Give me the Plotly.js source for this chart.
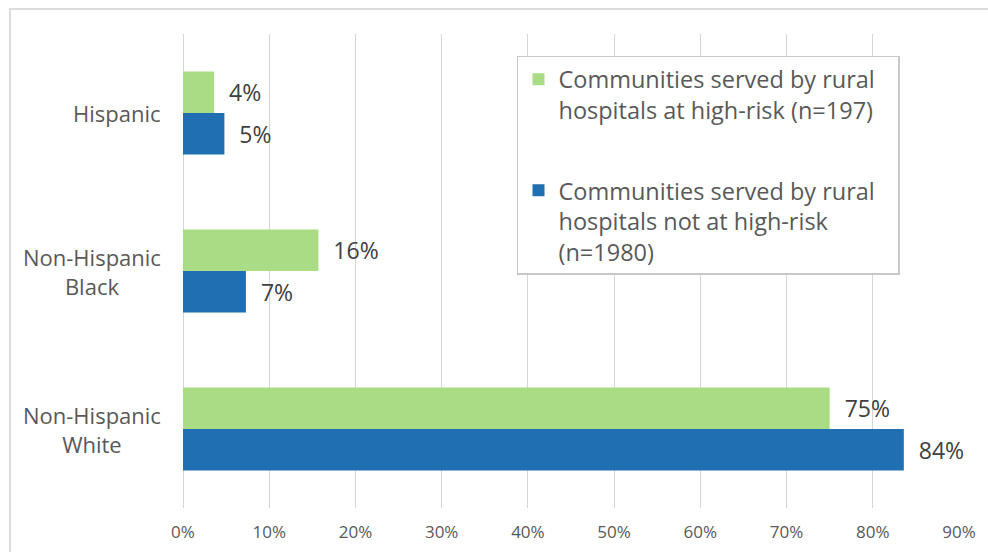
<!DOCTYPE html>
<html>
<head>
<meta charset="utf-8">
<script src="https://cdn.plot.ly/plotly-3.0.1.min.js"></script>
<style>
html,body{margin:0;padding:0;background:#fff;}
#wrap{position:relative;width:988px;height:552px;overflow:hidden;}
#frame{position:absolute;left:9px;top:8px;width:1010px;height:600px;border:2px solid #dcdcdc;pointer-events:none;}
#chart{position:absolute;left:0;top:0;width:988px;height:552px;}
</style>
</head>
<body>
<div id="wrap"><div id="chart"></div><div id="frame"></div></div>
<script>
const categories = ['Hispanic', 'Non-Hispanic Black', 'Non-Hispanic White'];
const categoryLabels = ['Hispanic', 'Non-Hispanic<br>Black', 'Non-Hispanic<br>White'];
const highRisk = [3.6, 15.7, 75.0];
const highRiskLabels = ['4%', '16%', '75%'];
const notHighRisk = [4.8, 7.3, 83.6];
const notHighRiskLabels = ['5%', '7%', '84%'];
const seriesNames = [
  'Communities served by rural\u00a0\u00a0\u00a0<br>hospitals at high-risk (n=197)',
  'Communities served by rural<br>hospitals not at high-risk<br>(n=1980)'
];
const xTicks = [0,10,20,30,40,50,60,70,80,90];
const xTickLabels = ['0%','10%','20%','30%','40%','50%','60%','70%','80%','90%'];

const FONT = 'Open Sans, Noto Sans, sans-serif';
const pad = '\u00a0\u00a0';

const traces = [
  {type:'bar', orientation:'h', name: seriesNames[0], y: categories, x: highRisk,
   text: highRiskLabels.map(t => pad + t), textposition:'outside', cliponaxis:false,
   constraintext:'none', textfont:{family:FONT, size:23, color:'#404040'},
   marker:{color:'#a9dc84'}, legendgroup:'a', hoverinfo:'x+y'},
  {type:'bar', orientation:'h', name: seriesNames[1], y: categories, x: notHighRisk,
   text: notHighRiskLabels.map(t => pad + t), textposition:'outside', cliponaxis:false,
   constraintext:'none', textfont:{family:FONT, size:23, color:'#404040'},
   marker:{color:'#1f6fb2'}, legendgroup:'b', hoverinfo:'x+y'}
];

const annotations = categories.map((c, i) => ({
  xref:'paper', yref:'y', x:-0.0258, y:c, xanchor:'right', yanchor:'middle',
  text: categoryLabels[i], align:'center', showarrow:false,
  font:{family:FONT, size:22, color:'#595959'}
}));

const layout = {
  width:988, height:552,
  margin:{l:183, r:29, t:34, b:44},
  paper_bgcolor:'rgba(0,0,0,0)', plot_bgcolor:'rgba(0,0,0,0)',
  barmode:'group', bargap:0.475, bargroupgap:0,
  showlegend:true,
  legend:{x:0.4304, y:0.9536, xanchor:'left', yanchor:'top',
    bgcolor:'#ffffff', bordercolor:'#c8c8c8', borderwidth:1.5,
    font:{family:FONT, size:23.5, color:'#595959'},
    traceorder:'grouped', tracegroupgap:47, valign:'top', itemwidth:30},
  xaxis:{range:[0,90], tickvals:xTicks, ticktext:xTickLabels, showgrid:true,
    gridcolor:'#d6d6d6', gridwidth:1, zeroline:true, zerolinecolor:'#d6d6d6', zerolinewidth:1,
    showline:false, ticks:'',
    ticklabelstandoff:12, tickfont:{family:FONT, size:17, color:'#595959'}, fixedrange:true},
  yaxis:{type:'category', categoryorder:'array', categoryarray:categories,
    autorange:'reversed', showticklabels:false, showgrid:false, zeroline:false,
    showline:false, ticks:'', fixedrange:true},
  annotations: annotations
};

Plotly.newPlot('chart', traces, layout, {displayModeBar:false, staticPlot:true});
</script>
</body>
</html>
